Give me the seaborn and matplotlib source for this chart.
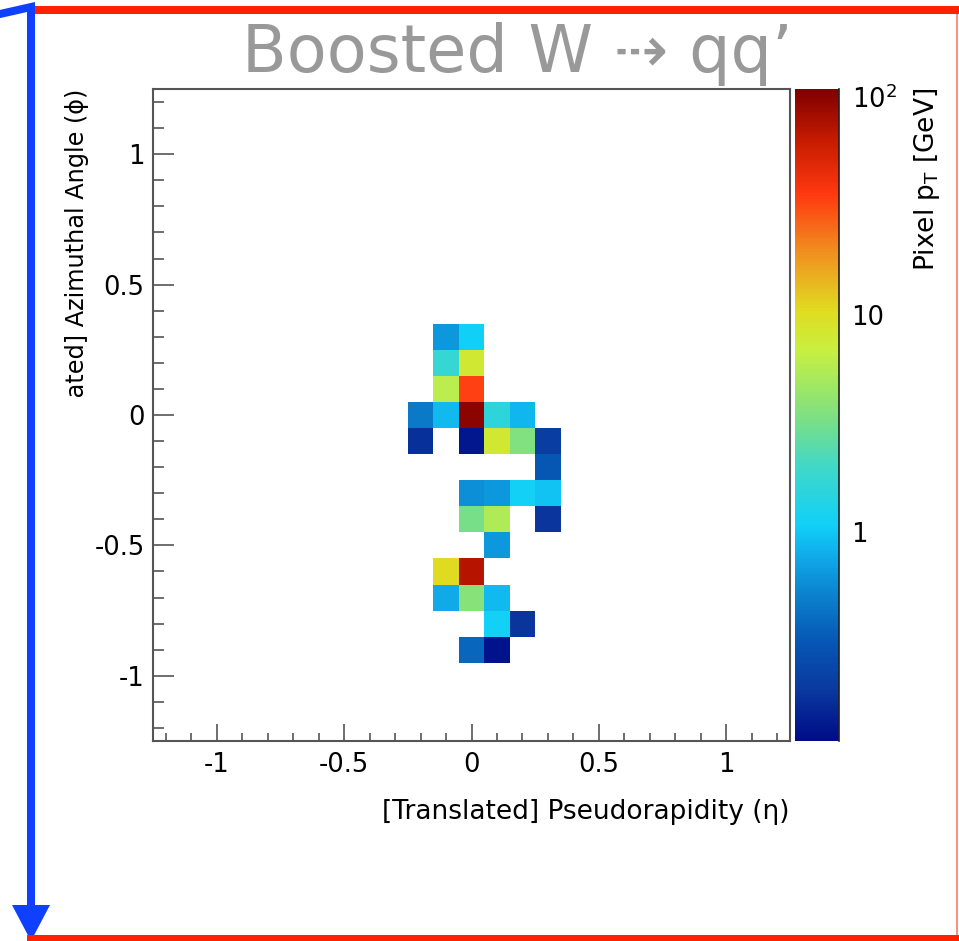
import numpy as np
import pandas as pd
import matplotlib
matplotlib.use("Agg")
import matplotlib.pyplot as plt
import seaborn as sns
from matplotlib.colors import LogNorm, LinearSegmentedColormap
from matplotlib.ticker import MultipleLocator, FuncFormatter, LogLocator, NullFormatter
from matplotlib.lines import Line2D
from matplotlib.patches import Polygon
from matplotlib.transforms import Bbox, TransformedBbox

# Jet image pixels: (eta, phi) centre of each cell and its pT in GeV
eta = [-0.1, 0.0,
       -0.1, 0.0,
       -0.1, 0.0,
       -0.2, -0.1, 0.0, 0.1, 0.2,
       -0.2, 0.0, 0.1, 0.2, 0.3,
       0.3,
       0.0, 0.1, 0.2, 0.3,
       0.0, 0.1, 0.3,
       0.1,
       -0.1, 0.0,
       -0.1, 0.0, 0.1,
       0.1, 0.2,
       0.0, 0.1]
phi = [0.3, 0.3,
       0.2, 0.2,
       0.1, 0.1,
       0.0, 0.0, 0.0, 0.0, 0.0,
       -0.1, -0.1, -0.1, -0.1, -0.1,
       -0.2,
       -0.3, -0.3, -0.3, -0.3,
       -0.4, -0.4, -0.4,
       -0.5,
       -0.6, -0.6,
       -0.7, -0.7, -0.7,
       -0.8, -0.8,
       -0.9, -0.9]
pt = [0.64, 1.07,
      1.73, 8.0,
      6.0, 34.0,
      0.47, 0.9, 100.0, 1.56, 0.87,
      0.17, 0.126, 8.2, 3.5, 0.20,
      0.31,
      0.59, 0.64, 1.1, 0.95,
      3.2, 5.4, 0.18,
      0.64,
      10.5, 72.0,
      0.78, 3.7, 0.9,
      1.1, 0.18,
      0.37, 0.12]

cbar_ticks = [1, 10, 100]
cbar_ticklabels = ["1", "10", "$10^{2}$"]

df = pd.DataFrame({"eta": eta, "phi": phi, "pt": pt})

W, H = 959, 941
sns.set_theme(style="white")
plt.rcParams["font.family"] = ["DejaVu Sans"]
plt.rcParams["axes.unicode_minus"] = False

fig = plt.figure(figsize=(W / 100, H / 100), dpi=100)
fig.patch.set_facecolor("white")


def fx(px):
    return px / W


def fy(py):
    return 1 - py / H


ax = fig.add_axes([fx(153), fy(741), fx(790) - fx(153), fy(89) - fy(741)])
cax = fig.add_axes([fx(795), fy(741), fx(839) - fx(795), fy(89) - fy(741)])

palette = LinearSegmentedColormap.from_list("pixel_pt", [
    (0.00, "#000c88"), (0.08, "#0a3aa0"), (0.15, "#0656b4"), (0.22, "#0a80cc"),
    (0.28, "#10a8e8"), (0.33, "#10d0f8"), (0.42, "#40d8c8"), (0.50, "#80e080"),
    (0.60, "#c8f040"), (0.66, "#e0dc20"), (0.75, "#f09020"), (0.84, "#ff3810"),
    (0.92, "#c81c00"), (1.00, "#800000")])

sns.histplot(data=df, x="eta", y="phi", weights="pt", bins=25,
             binrange=((-1.25, 1.25), (-1.25, 1.25)), cmap=palette,
             cbar=False, ax=ax)

# Log colour scale for the pixel pT
mesh = ax.collections[0]
mesh.set_norm(LogNorm(vmin=0.11, vmax=109))
cbar = fig.colorbar(mesh, cax=cax)

ax.set_xlim(-1.25, 1.25)
ax.set_ylim(-1.25, 1.25)
ax.set_xlabel("")
ax.set_ylabel("")
ax.set_facecolor("white")
ax.grid(False)

frame_col = "#555555"
for s in ax.spines.values():
    s.set_visible(True)
    s.set_color(frame_col)
    s.set_linewidth(1.5)

fmt = FuncFormatter(lambda v, p: "%g" % v)
ax.xaxis.set_major_locator(MultipleLocator(0.5))
ax.xaxis.set_minor_locator(MultipleLocator(0.1))
ax.yaxis.set_major_locator(MultipleLocator(0.5))
ax.yaxis.set_minor_locator(MultipleLocator(0.1))
ax.xaxis.set_major_formatter(fmt)
ax.yaxis.set_major_formatter(fmt)
ax.tick_params(axis="both", which="both", direction="in", colors=frame_col,
               labelcolor="black", labelsize=18.5, width=1.2,
               bottom=True, left=True, top=False, right=False)
ax.tick_params(axis="x", which="major", length=12.5, pad=8)
ax.tick_params(axis="x", which="minor", length=6)
ax.tick_params(axis="y", which="major", length=15, pad=6)
ax.tick_params(axis="y", which="minor", length=8)

# Colour bar: log axis with ticks on its right edge
cbar.outline.set_visible(False)
cbar.set_ticks(cbar_ticks, labels=cbar_ticklabels)
cbar.minorlocator = LogLocator(base=10, subs=np.arange(2, 10))
cax.yaxis.set_minor_formatter(NullFormatter())
cax.yaxis.set_ticks_position("right")
cax.tick_params(which="both", direction="in", colors="#222222",
                labelcolor="black", labelsize=18.5, width=1.2, pad=9)
cax.tick_params(which="major", length=14.5)
cax.tick_params(which="minor", length=7)
cax.spines["right"].set_visible(True)
cax.spines["right"].set_color("#222222")
cax.spines["right"].set_linewidth(1.2)

# Axis titles
fig.text(fx(789), fy(819), "[Translated] Pseudorapidity (η)", ha="right",
         va="baseline", fontsize=19, color="black")
ylab = fig.text(fx(84), fy(89), "[Translated] Azimuthal Angle (ϕ)", rotation=90,
                rotation_mode="anchor", ha="right", va="baseline",
                fontsize=17.3, color="black")
ylab.set_clip_box(TransformedBbox(Bbox([[0, fy(399)], [1, 1]]), fig.transFigure))
ylab.set_clip_on(True)
fig.text(fx(934), fy(88), "Pixel p$_\\mathregular{T}$ [GeV]", rotation=90,
         rotation_mode="anchor", ha="right", va="baseline",
         fontsize=19, color="black")

# Title
fig.text(fx(517), fy(72), "Boosted W ⇢ qq’", ha="center", va="baseline",
         fontsize=47, color="#999999")

# Slide frame and arrow
red = "#ff2200"
blue = "#1040ff"
pt_per_px = 72 / 100
fig.add_artist(Line2D([fx(27), fx(959)], [fy(10), fy(10)], color=red,
                      lw=8 * pt_per_px, solid_capstyle="butt"))
fig.add_artist(Line2D([fx(27), fx(959)], [fy(938), fy(938)], color=red,
                      lw=6 * pt_per_px, solid_capstyle="butt"))
fig.add_artist(Line2D([fx(957), fx(957)], [fy(10), fy(938)], color=red,
                      lw=2 * pt_per_px, alpha=0.5))
fig.add_artist(Line2D([fx(0), fx(31), fx(31)], [fy(14), fy(7), fy(906)],
                      color=blue, lw=8 * pt_per_px, solid_joinstyle="miter"))
fig.add_artist(Polygon([[fx(12), fy(905)], [fx(50), fy(905)], [fx(31), fy(941)]],
                       closed=True, facecolor=blue, edgecolor="none",
                       transform=fig.transFigure))

fig.savefig("out.png", dpi=100, facecolor="white")
